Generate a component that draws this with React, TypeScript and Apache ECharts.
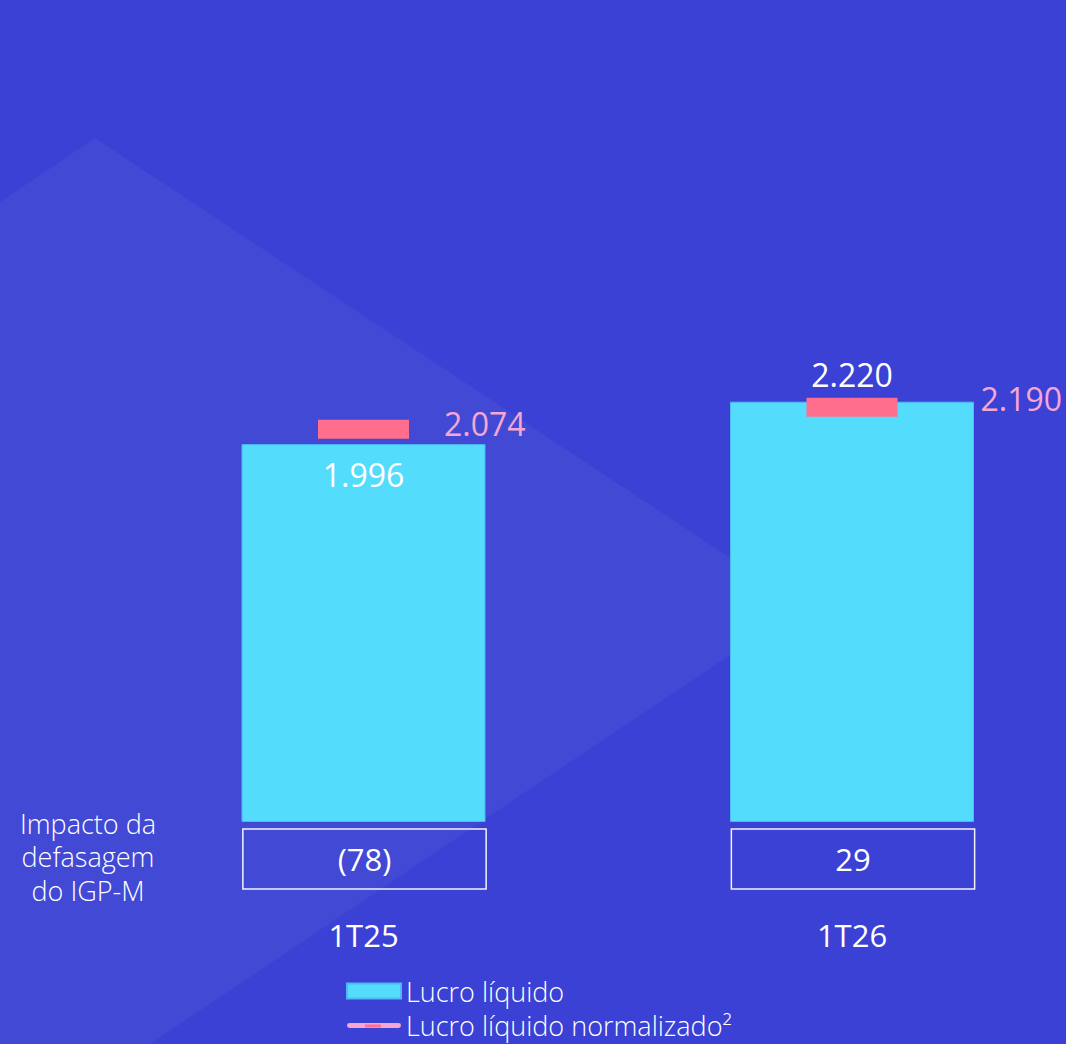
import React, { useEffect, useRef } from "react";
import * as echarts from "echarts";

const categories = ["1T25", "1T26"];
const lucroLiquido = [1996, 2220];
const lucroNormalizado = [2074, 2190];
const impactoIGPM = [-78, 29];
const seriesNames = ["Lucro líquido", "Lucro líquido normalizado²"];
const impactoLabel = ["Impacto da", "defasagem", "do IGP-M"];

const FONT = "'Open Sans', 'Noto Sans', sans-serif";

function fmt(v: number): string {
  const abs = Math.abs(v);
  const s = String(abs).replace(/\B(?=(\d{3})+(?!\d))/g, ".");
  return v < 0 ? `(${s})` : s;
}

export default function App() {
  const ref = useRef<HTMLDivElement>(null);
  useEffect(() => {
    document.body.style.margin = "0";
    if (!ref.current) return;
    const chart = echarts.init(ref.current, null, { renderer: "svg" });
    const option: any = {
      animation: false,
      backgroundColor: "#3A41D4",
      grid: { left: 363.5, right: 214, top: 254, bottom: 222, containLabel: false },
      xAxis: {
        type: "category",
        data: categories,
        boundaryGap: false,
        axisLine: { show: false },
        axisTick: { show: false },
        splitLine: { show: false },
        axisLabel: {
          color: "#FFFFFF",
          fontSize: 31,
          fontFamily: FONT,
          margin: 97,
        },
      },
      yAxis: {
        type: "value",
        min: 0,
        max: 3000,
        show: false,
        splitLine: { show: false },
      },
      legend: {
        orient: "vertical",
        left: 346,
        top: 977,
        padding: 0,
        itemWidth: 54,
        itemHeight: 15,
        itemGap: 6.5,
        selectedMode: false,
        textStyle: {
          color: "#FFFFFF",
          fontSize: 27,
          fontWeight: 300,
          fontFamily: FONT,
          lineHeight: 28,
        },
        data: [
          { name: seriesNames[0], icon: "rect", itemStyle: { color: "#54DCFC" } },
          {
            name: seriesNames[1],
            icon: "path://M2.5,0L53.5,0A2.5,2.5,0,0,1,53.5,5L2.5,5A2.5,2.5,0,0,1,2.5,0Z",
            itemStyle: { color: "#F7A6D3" },
          },
        ],
      },
      graphic: [
        {
          type: "polygon",
          z: -10,
          silent: true,
          shape: {
            points: [
              [0, 202],
              [95, 138],
              [803, 606],
              [150, 1044],
              [0, 1044],
            ],
          },
          style: { fill: "#4249D4" },
        },
        ...impactoLabel.map((t, i) => ({
          type: "text",
          x: 88,
          y: 823 + i * 33.5,
          style: {
            text: t,
            fill: "#FFFFFF",
            fontSize: 27,
            fontWeight: 300,
            fontFamily: FONT,
            lineHeight: 27,
            align: "center",
            verticalAlign: "middle",
          },
        })),
        {
          type: "rect",
          z: 100,
          shape: { x: 365, y: 1024.5, width: 16, height: 3 },
          style: { fill: "#FF6E8C" },
        },
      ],
      series: [
        {
          name: seriesNames[0],
          type: "bar",
          barWidth: 244,
          itemStyle: { color: "#54DCFC", borderColor: "#4DB8F2", borderWidth: 1 },
          data: lucroLiquido.map((v, i) => ({
            value: v,
            label: {
              show: true,
              position: i === 0 ? "insideTop" : "top",
              distance: i === 0 ? 14 : 11,
              formatter: () => fmt(v),
              color: "#FFFFFF",
              fontSize: 32,
              fontFamily: FONT,
            },
          })),
          z: 2,
        },
        {
          name: seriesNames[1],
          type: "scatter",
          symbol: "rect",
          symbolSize: [91, 19],
          itemStyle: { color: "#FF6E8C", opacity: 1 },
          data: lucroNormalizado.map((v, i) => ({
            value: v,
            label: {
              show: true,
              position: "right",
              distance: i === 0 ? 35 : 83,
              offset: i === 0 ? [0, -6] : [0, -9],
              formatter: () => fmt(v),
              color: "#F7A6D3",
              fontSize: 32,
              fontFamily: FONT,
            },
          })),
          z: 5,
        },
        {
          name: "Impacto da defasagem do IGP-M",
          type: "custom",
          clip: false,
          data: impactoIGPM.map((v, i) => [i, v]),
          renderItem: (params: any, api: any) => {
            const idx = api.value(0);
            const val = api.value(1);
            const pt = api.coord([idx, 0]);
            const band = api.size([1, 0])[0];
            const w = band * 0.498;
            return {
              type: "group",
              children: [
                {
                  type: "rect",
                  shape: { x: pt[0] - w / 2 + 1, y: pt[1] + 7, width: w, height: 60 },
                  style: { fill: "none", stroke: "#F2F2FF", lineWidth: 1.5 },
                },
                {
                  type: "text",
                  style: {
                    text: fmt(val),
                    x: pt[0] + 1,
                    y: pt[1] + 37,
                    align: "center",
                    verticalAlign: "middle",
                    fill: "#FFFFFF",
                    fontSize: 31,
                    fontFamily: FONT,
                  },
                },
              ],
            };
          },
          z: 3,
        },
      ],
    };
    chart.setOption(option);
    return () => chart.dispose();
  }, []);
  return <div ref={ref} style={{ width: 1066, height: 1044 }} />;
}
